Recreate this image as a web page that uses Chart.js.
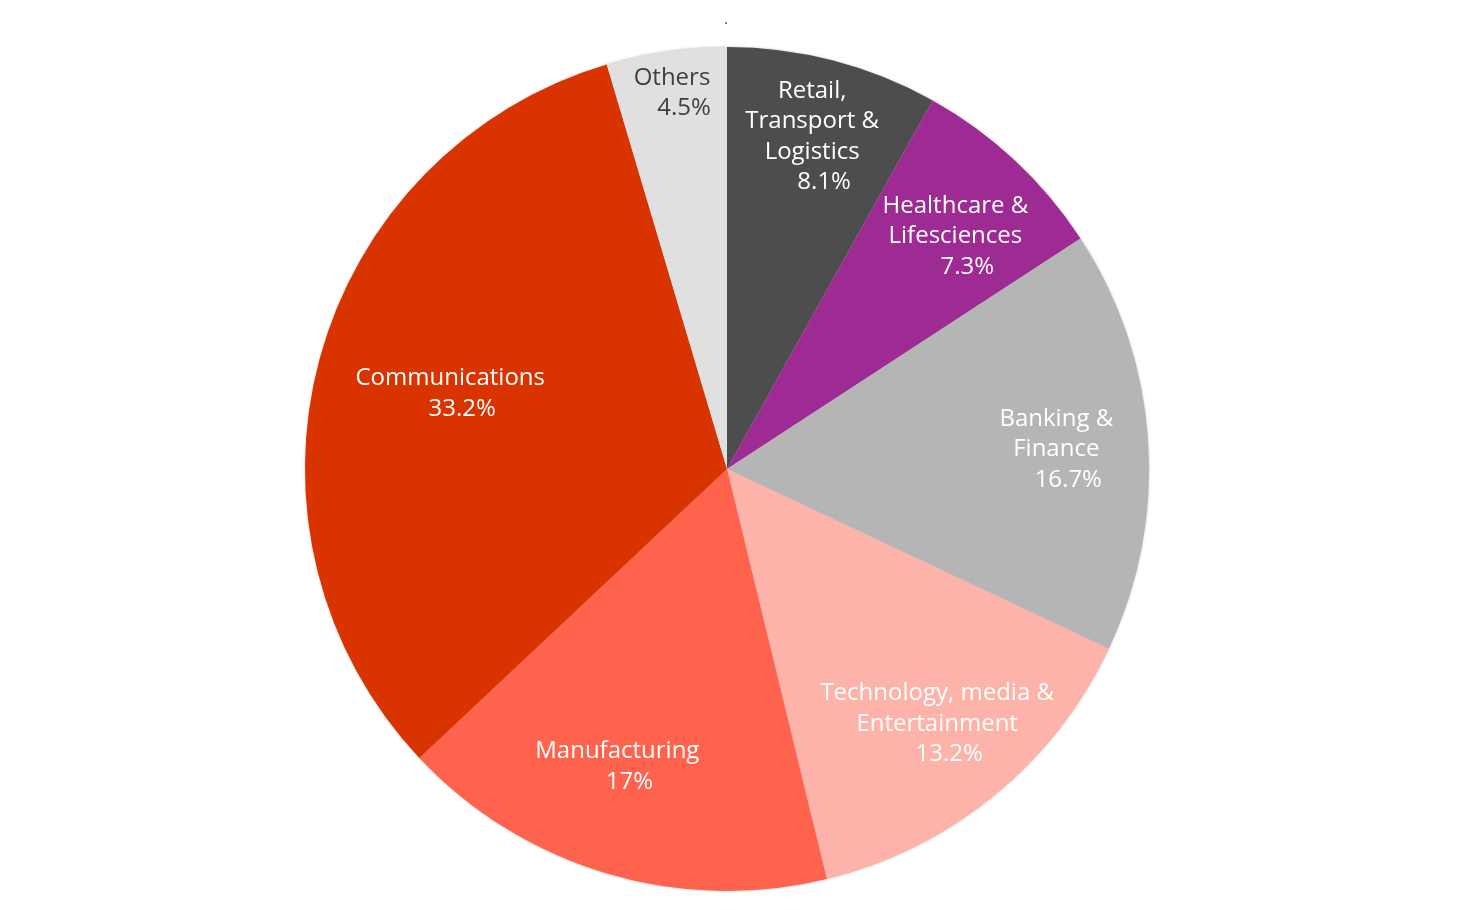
<!DOCTYPE html>
<html>
<head>
<meta charset="utf-8">
<script src="https://cdn.jsdelivr.net/npm/chart.js@4/dist/chart.umd.min.js"></script>
<style>
  html, body { margin: 0; padding: 0; background: #fff; }
  #wrap { width: 1460px; height: 910px; }
</style>
</head>
<body>
<div id="wrap"><canvas id="pieChart"></canvas></div>
<script>
// Chart data
const categories = [
    ['Retail,', 'Transport &', 'Logistics'],
    ['Healthcare &', 'Lifesciences'],
    ['Banking &', 'Finance'],
    ['Technology, media &', 'Entertainment'],
    ['Manufacturing'],
    ['Communications'],
    ['Others']
];
// percentages printed on the slices
const shareLabels = ['8.1%', '7.3%', '16.7%', '13.2%', '17%', '33.2%', '4.5%'];
// slice sizes as drawn in the picture
const sliceShares = [8.1, 7.7, 16.2, 14.2, 16.8, 32.4, 4.6];

// Styling per slice
const sliceColors = ['#4d4d4d', '#9e2a94', '#b5b5b5', '#fdb3aa', '#ff624d', '#d93300', '#e0e0e0'];
const textColors = ['#fff', '#fff', '#fff', '#fff', '#fff', '#fff', '#404040'];
const labelRadius = [0.818, 0.776, 0.782, 0.779, 0.747, 0.681, 0.905];
const labelTurn = [-0.3, 1.2, 0.2, -0.5, 3.8, 0.5, 0]; // degrees, clockwise

const FONT = '24px "Open Sans", "Noto Sans", sans-serif';
const LINE_H = 30.5;

// faint shadow around the pie rim
const rimShadow = {
    id: 'rimShadow',
    beforeDatasetsDraw(chart) {
        const arc = chart.getDatasetMeta(0).data[0];
        if (!arc) return;
        const ctx = chart.ctx;
        ctx.save();
        ctx.shadowColor = 'rgba(0,0,0,0.35)';
        ctx.shadowBlur = 3;
        ctx.fillStyle = '#ccc';
        ctx.beginPath();
        ctx.arc(arc.x, arc.y, arc.outerRadius - 0.5, 0, Math.PI * 2);
        ctx.fill();
        ctx.restore();
    }
};

// Draw the text labels inside slices
const sliceLabels = {
    id: 'sliceLabels',
    afterDatasetsDraw(chart) {
        const ctx = chart.ctx;
        const arcs = chart.getDatasetMeta(0).data;
        ctx.save();
        ctx.font = FONT;
        ctx.textAlign = 'center';
        ctx.textBaseline = 'middle';
        arcs.forEach((arc, i) => {
            const mid = (arc.startAngle + arc.endAngle) / 2 + labelTurn[i] * Math.PI / 180;
            const r = arc.outerRadius * labelRadius[i];
            const cx = arc.x + Math.cos(mid) * r;
            const cy = arc.y + Math.sin(mid) * r + 2;
            const lines = categories[i].concat([shareLabels[i]]);
            const top = cy - (lines.length - 1) * LINE_H / 2;
            ctx.fillStyle = textColors[i];
            lines.forEach((line, j) => {
                const shift = j === lines.length - 1 ? 12 : 0;
                ctx.fillText(line, cx + shift, top + j * LINE_H);
            });
        });
        // small mark above the pie
        const first = arcs[0];
        ctx.fillStyle = '#333';
        ctx.font = '14px "Open Sans", sans-serif';
        ctx.fillText('.', first.x - 1, 20);
        ctx.restore();
    }
};

new Chart(document.getElementById('pieChart'), {
    type: 'pie',
    data: {
        labels: categories.map(c => c.join(' ')),
        datasets: [{
            data: sliceShares,
            backgroundColor: sliceColors,
            borderWidth: 0
        }]
    },
    options: {
        responsive: true,
        maintainAspectRatio: false,
        animation: false,
        layout: { padding: { top: 47, bottom: 19, left: 0, right: 6 } },
        plugins: {
            legend: { display: false },
            tooltip: { enabled: false }
        }
    },
    plugins: [rimShadow, sliceLabels]
});
</script>
</body>
</html>
